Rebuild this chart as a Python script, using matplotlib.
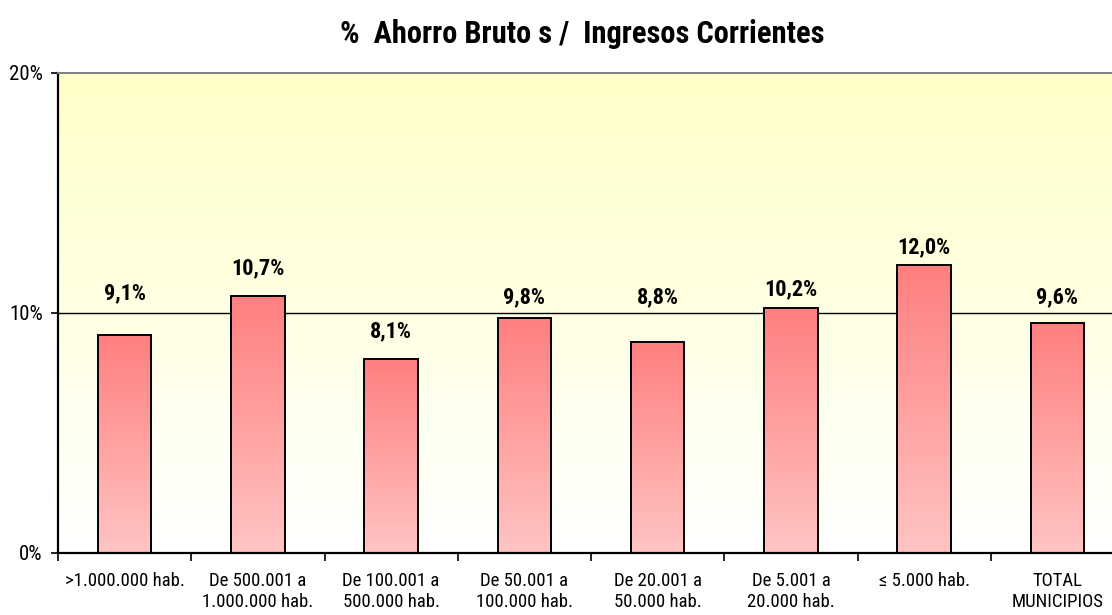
import logging
import numpy as np
import matplotlib.pyplot as plt
from matplotlib.colors import LinearSegmentedColormap

# ---------------------------------------------------------------------------
# data
# ---------------------------------------------------------------------------
categories = ['>1.000.000 hab.', 'De 500.001 a\n1.000.000 hab.', 'De 100.001 a\n500.000 hab.',
              'De 50.001 a\n100.000 hab.', 'De 20.001 a\n50.000 hab.', 'De 5.001 a\n20.000 hab.',
              '≤ 5.000 hab.', 'TOTAL\nMUNICIPIOS']
values = [9.1, 10.7, 8.1, 9.8, 8.8, 10.2, 12.0, 9.6]
value_labels = ['9,1%', '10,7%', '8,1%', '9,8%', '8,8%', '10,2%', '12,0%', '9,6%']
# label heights as placed in the original sheet (data units)
label_y = [10.8, 11.85, 9.25, 10.65, 10.65, 11.0, 12.75, 10.65]
yticks = [0, 10, 20]
ytick_labels = ['0%', '10%', '20%']

# narrow sans; first installed one wins
FONT = ['Liberation Sans Narrow', 'Arial Narrow', 'Roboto Condensed',
        'Archivo Narrow', 'DejaVu Sans']
logging.getLogger('matplotlib.font_manager').setLevel(logging.ERROR)
plt.rcParams['font.family'] = FONT

bar_cmap = LinearSegmentedColormap.from_list('bar', ['#ffc4c4', '#ff7f7f'])
bg_cmap = LinearSegmentedColormap.from_list('bg', ['#ffffff', '#ffffc8'])

fig = plt.figure(figsize=(11.12, 6.15), dpi=100)
# plot area runs past the right edge of the sheet, as in the original
ax = fig.add_axes([58 / 1112, 62 / 615, 1066 / 1112, 480 / 615])

n = len(categories)
ax.set_xlim(0, n)
ax.set_ylim(0, 20)

# plot-area background: light yellow fading to white
grad = np.linspace(0, 1, 256).reshape(-1, 1)
ax.imshow(grad, extent=(0, n, 0, 20), origin='lower', aspect='auto',
          cmap=bg_cmap, zorder=0)

ax.axhline(10, color='black', linewidth=1.0, zorder=1)

x = np.arange(n) + 0.5
width = 0.4
bars = ax.bar(x, values, width=width, facecolor='none', edgecolor='black',
              linewidth=1.4, zorder=3)
for b in bars:
    x0, y0 = b.get_x(), b.get_y()
    w, h = b.get_width(), b.get_height()
    im = ax.imshow(grad, extent=(x0, x0 + w, y0, y0 + h), origin='lower',
                   aspect='auto', cmap=bar_cmap, zorder=2)
    im.set_clip_path(b)

for xi, ly, lab in zip(x, label_y, value_labels):
    ax.text(xi, ly, lab, ha='center', va='center', fontsize=16,
            fontweight='bold', color='black', zorder=4)

ax.set_xticks(np.arange(n + 1))
ax.set_xticklabels([])
ax.set_xticks(x, minor=True)
ax.set_xticklabels(categories, minor=True, fontsize=13.5, linespacing=1.2)
ax.tick_params(axis='x', which='major', direction='out', length=6, width=1.2)
ax.tick_params(axis='x', which='minor', length=0, pad=14)

ax.set_yticks(yticks)
ax.set_yticklabels(ytick_labels, fontsize=15)
ax.tick_params(axis='y', direction='out', length=5, width=1.2, pad=6)

for s in ('left', 'bottom'):
    ax.spines[s].set_linewidth(1.6)
ax.spines['top'].set_color('#808080')
ax.spines['top'].set_linewidth(1.4)
ax.spines['right'].set_visible(False)

fig.text(0.524, 0.945, '%  Ahorro Bruto s /  Ingresos Corrientes', ha='center',
         va='center', fontsize=22, fontweight='bold')

fig.savefig('out.png', dpi=100)
